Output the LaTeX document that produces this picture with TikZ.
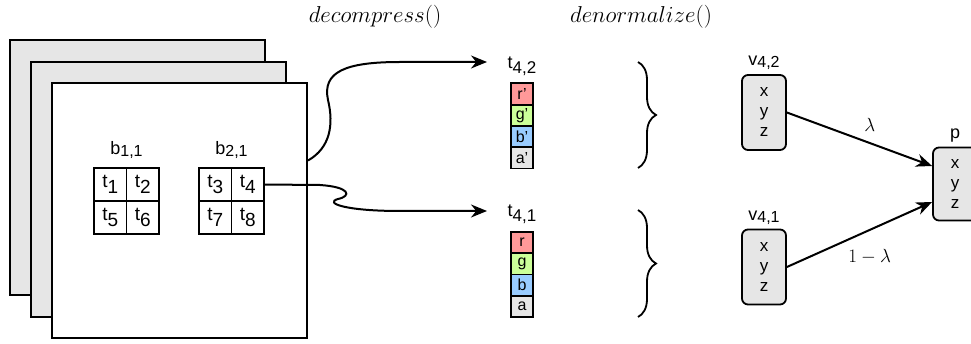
\documentclass[tikz,border=0pt]{standalone}
\usepackage{fix-cm}
\usepackage{fontspec}
\setmainfont{Liberation Sans}
\usetikzlibrary{positioning,arrows.meta,decorations.pathreplacing}
\newcommand{\lowsub}[3]{\raisebox{-#1}{\fontsize{#2}{#2}\selectfont #3}}
\definecolor{chanred}{HTML}{FF9999}
\definecolor{changreen}{HTML}{CCFF99}
\definecolor{chanblue}{HTML}{99CCFF}
\definecolor{changray}{HTML}{E6E6E6}

\begin{document}
\begin{tikzpicture}[x=1pt, y=-1pt, font=\fontsize{18}{20}\selectfont,
  layer/.style = {draw, line width=2pt, minimum width=255pt, minimum height=255pt},
  cell/.style = {draw, line width=1.8pt, minimum width=32.5pt, minimum height=33pt, inner sep=0pt, outer sep=0pt, font=\fontsize{19}{21}\selectfont},
  chan/.style = {draw, line width=1.8pt, minimum width=22pt, minimum height=21.3pt, inner sep=0pt, outer sep=0pt, font=\fontsize{16}{16}\selectfont},
  vert/.style = {draw, rounded corners=6pt, line width=1.8pt, fill=changray, minimum width=44pt, minimum height=75pt, align=center, inner sep=0pt, font=\fontsize{17}{20}\selectfont},
  lbl/.style = {inner sep=1pt},
  title/.style = {font=\fontsize{23}{25}\selectfont},
  brace/.style = {decorate, decoration={brace, amplitude=18pt}, line width=1.8pt},
  link/.style = {line width=2pt, -{Stealth[length=16pt,width=13pt]}}]
  \useasboundingbox (0,0) rectangle (971,344);

  \node[title] (decomp) at (375,17) {$decompress()$};
  \node[title] (denorm) at (641,17) {$denormalize()$};

  \node[layer, fill=changray] (layer1) at (137.5,168) {};
  \node[layer, fill=changray] (layer2) at (158.5,189.5) {};
  \node[layer, fill=white] (layer3) at (179.5,210.5) {};

  \node[cell] (t1) at (110.25,184.5) {t\lowsub{6pt}{19}{1}};
  \node[cell, right=0pt of t1] (t2) {t\lowsub{6pt}{19}{2}};
  \node[cell, below=0pt of t1] (t5) {t\lowsub{6pt}{19}{5}};
  \node[cell, right=0pt of t5] (t6) {t\lowsub{6pt}{19}{6}};
  \node[cell] (t3) at (215.25,184.5) {t\lowsub{6pt}{19}{3}};
  \node[cell, right=0pt of t3] (t4) {t\lowsub{6pt}{19}{4}};
  \node[cell, below=0pt of t3] (t7) {t\lowsub{6pt}{19}{7}};
  \node[cell, right=0pt of t7] (t8) {t\lowsub{6pt}{19}{8}};
  \node[lbl] (b11) at (126.5,150) {b\lowsub{2pt}{16}{1,1}};
  \node[lbl] (b21) at (231.5,150) {b\lowsub{2pt}{16}{2,1}};

  \node[lbl] (t42) at (522,66) {t\lowsub{5pt}{17}{4,2}};
  \node[chan, fill=chanred] (r2) at (522,94) {r'};
  \node[chan, fill=changreen, below=0pt of r2] (g2) {g'};
  \node[chan, fill=chanblue, below=0pt of g2] (bl2) {b'};
  \node[chan, fill=changray, below=0pt of bl2] (a2) {a'};
  \node[lbl] (t41) at (522,214) {t\lowsub{5pt}{17}{4,1}};
  \node[chan, fill=chanred] (r1) at (522,242.5) {r};
  \node[chan, fill=changreen, below=0pt of r1] (g1) {g};
  \node[chan, fill=chanblue, below=0pt of g1] (bl1) {b};
  \node[chan, fill=changray, below=0pt of bl1] (a1) {a};

  \draw[brace] (638,62) -- (638,168);
  \draw[brace] (638,210) -- (638,317);

  \node[vert] (v42) at (764,112.5) {x\\y\\z};
  \node[vert] (v41) at (764,267) {x\\y\\z};
  \node[vert, minimum height=73pt] (p) at (955,184) {x\\y\\z};
  \node[lbl, above=3pt of v42] (v42l) {v\lowsub{2pt}{16}{4,2}};
  \node[lbl, above=3pt of v41] (v41l) {v\lowsub{2pt}{16}{4,1}};
  \node[lbl, above=3pt of p] (pl) {p};

  \coordinate (in42) at (487,62);
  \coordinate (in41) at (487,211);
  \draw[link] ([yshift=50pt]layer3.east) .. controls (330,148) and (334,125) .. (328,100)
    .. controls (322,72) and (345,62) .. (400,62) -- (in42);
  \draw[link] (t4.east) -- (320,185) .. controls (350,187) and (352,196) .. (338,199)
    .. controls (324,203) and (345,211) .. (400,211) -- (in41);

  \draw[link] (v42.east) -- node[pos=0.57, above=7pt, font=\fontsize{19}{21}\selectfont] {$\lambda$} ([yshift=18pt]p.west);
  \draw[link] (v41.east) -- node[pos=0.57, below=15pt, font=\fontsize{19}{21}\selectfont] {$1-\lambda$} ([yshift=-18pt]p.west);
\end{tikzpicture}
\end{document}
